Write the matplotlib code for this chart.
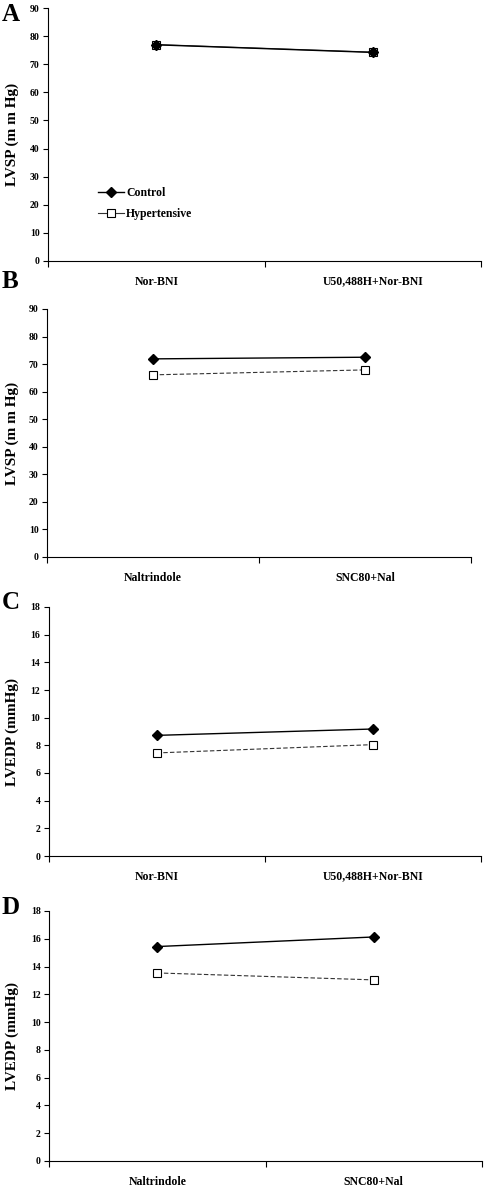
import numpy as np
import matplotlib
matplotlib.use('Agg')
from matplotlib import pyplot as plt

plt.rcParams['font.family'] = ['Liberation Serif', 'DejaVu Serif']
plt.rcParams['font.weight'] = 'bold'

# values
groups = ['Control', 'Hypertensive']

cats_kappa = ['Nor-BNI', 'U50,488H+Nor-BNI']
cats_delta = ['Naltrindole', 'SNC80+Nal']

lvsp_kappa_ctrl = [76.9, 74.2]
lvsp_kappa_hyp = [77.0, 74.3]
lvsp_delta_ctrl = [71.9, 72.5]
lvsp_delta_hyp = [66.1, 67.9]
lvedp_kappa_ctrl = [8.72, 9.18]
lvedp_kappa_hyp = [7.45, 8.05]
lvedp_delta_ctrl = [15.44, 16.13]
lvedp_delta_hyp = [13.54, 13.04]

fig = plt.figure(figsize=(4.84, 11.86), dpi=100)

W, H = 484.0, 1186.0
def rect(left, right, top, bottom):
    return [left / W, 1 - bottom / H, (right - left) / W, (bottom - top) / H]

panels = [
    ('A', (48, 481, 8, 261), cats_kappa, lvsp_kappa_ctrl, lvsp_kappa_hyp,
     'LVSP (m m Hg)', 90, 10, '-'),
    ('B', (47, 471, 309, 557), cats_delta, lvsp_delta_ctrl, lvsp_delta_hyp,
     'LVSP (m m Hg)', 90, 10, '--'),
    ('C', (48.5, 481, 607, 856), cats_kappa, lvedp_kappa_ctrl, lvedp_kappa_hyp,
     'LVEDP (mmHg)', 18, 2, '--'),
    ('D', (49, 482, 911, 1161), cats_delta, lvedp_delta_ctrl, lvedp_delta_hyp,
     'LVEDP (mmHg)', 18, 2, '--'),
]

letter_y = [3, 270, 591, 896]

for (letter, px, cats, ctrl, hyp, ylab, ymax, step, hyp_ls), ly in zip(panels, letter_y):
    ax = fig.add_axes(rect(*px))
    x = np.arange(len(cats)) + 0.5
    ax.plot(x, hyp, color='#333333', linestyle=hyp_ls, linewidth=0.8,
            marker='s', markersize=5.5, markerfacecolor='white',
            markeredgecolor='black', markeredgewidth=0.8, label=groups[1],
            dashes=(4, 2) if hyp_ls == '--' else (None, None))
    ax.plot(x, ctrl, color='black', linestyle='-', linewidth=1.0,
            marker='D', markersize=5.5, markerfacecolor='black',
            markeredgecolor='black', label=groups[0])
    ax.set_xlim(0, len(cats))
    ax.set_ylim(0, ymax)
    ax.set_yticks(np.arange(0, ymax + step / 2, step))
    ax.set_xticks(np.arange(0, len(cats) + 1))
    ax.set_xticklabels([])
    ax.set_xticks(x, minor=True)
    ax.set_xticklabels(cats, minor=True, fontsize=8.5, fontweight='bold')
    ax.tick_params(axis='x', which='major', direction='out', length=4, width=0.8)
    ax.tick_params(axis='x', which='minor', length=0, pad=10.5)
    ax.tick_params(axis='y', direction='out', length=3.5, width=0.8, pad=2.5,
                   labelsize=7)
    for lab in ax.get_yticklabels():
        lab.set_fontweight('bold')
    ax.spines['top'].set_visible(False)
    ax.spines['right'].set_visible(False)
    ax.spines['left'].set_linewidth(0.8)
    ax.spines['bottom'].set_linewidth(0.8)
    ax.set_ylabel(ylab, fontsize=11, fontweight='bold')
    ax.yaxis.set_label_coords((19 - px[0]) / (px[1] - px[0]), 0.5)
    fig.text(2 / W, 1 - ly / H, letter, fontsize=18, fontweight='bold',
             va='top', ha='left')
    if letter == 'A':
        h, l = ax.get_legend_handles_labels()
        leg = ax.legend(h[::-1], l[::-1], loc='upper left',
                        bbox_to_anchor=(0.09, 0.335), frameon=False,
                        fontsize=8.5, handlelength=2.2, handletextpad=0.2,
                        labelspacing=0.75)
        for t in leg.get_texts():
            t.set_fontweight('bold')

fig.savefig('out.png', dpi=100)
